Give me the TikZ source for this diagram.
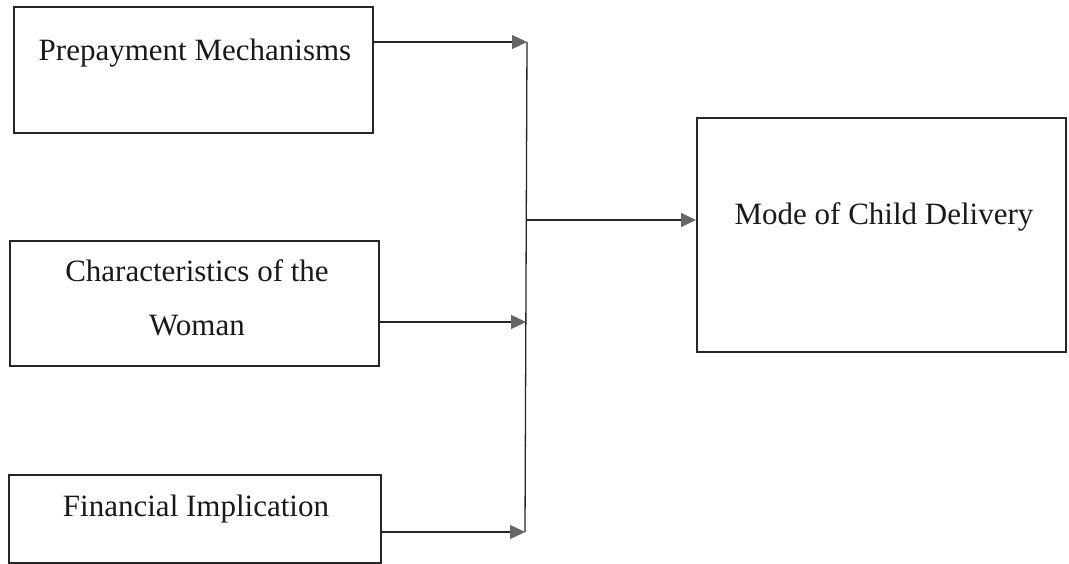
\documentclass[tikz,border=0pt]{standalone}
\usepackage{fontspec}
\setmainfont{Liberation Serif}
\usetikzlibrary{arrows.meta}
\begin{document}
\begin{tikzpicture}[x=1pt,y=-1pt,
  box/.style={draw=black!85,line width=2pt,inner sep=0pt},
  txt/.style={anchor=base,inner sep=0pt,text=black!90,font=\fontsize{31}{37}\selectfont},
  link/.style={line width=1.3pt,draw=black!85},
  arr/.style={link,-{Triangle[length=15pt,width=14pt,color=black!60]}}]
\useasboundingbox (0,0) rectangle (1069,564);
\node[box,minimum width=359pt,minimum height=126pt] (prepay) at (193.5,70) {};
\node[box,minimum width=369pt,minimum height=125pt] (woman) at (194.5,303.5) {};
\node[box,minimum width=372pt,minimum height=88pt] (finance) at (195,519) {};
\node[box,minimum width=369pt,minimum height=234pt] (mode) at (881.5,235) {};
\node[txt] (prepaytxt) at (195,61) {Prepayment Mechanisms};
\node[txt] (womantxta) at (197,282) {Characteristics of the};
\node[txt] (womantxtb) at (197,335) {Woman};
\node[txt] (financetxt) at (196,516) {Financial Implication};
\node[txt] (modetxt) at (884,225) {Mode of Child Delivery};
\coordinate (j1) at (527,42);
\coordinate (j2) at (526,322);
\coordinate (j3) at (525,532);
\coordinate (jm) at (526,220);
\draw[arr] (prepay.east |- j1) -- (j1);
\draw[arr] (woman.east |- j2) -- (j2);
\draw[arr] (finance.east |- j3) -- (j3);
\draw[link] (j1) -- (j3);
\draw[arr] (jm) -- (mode.west |- jm);
\end{tikzpicture}
\end{document}
